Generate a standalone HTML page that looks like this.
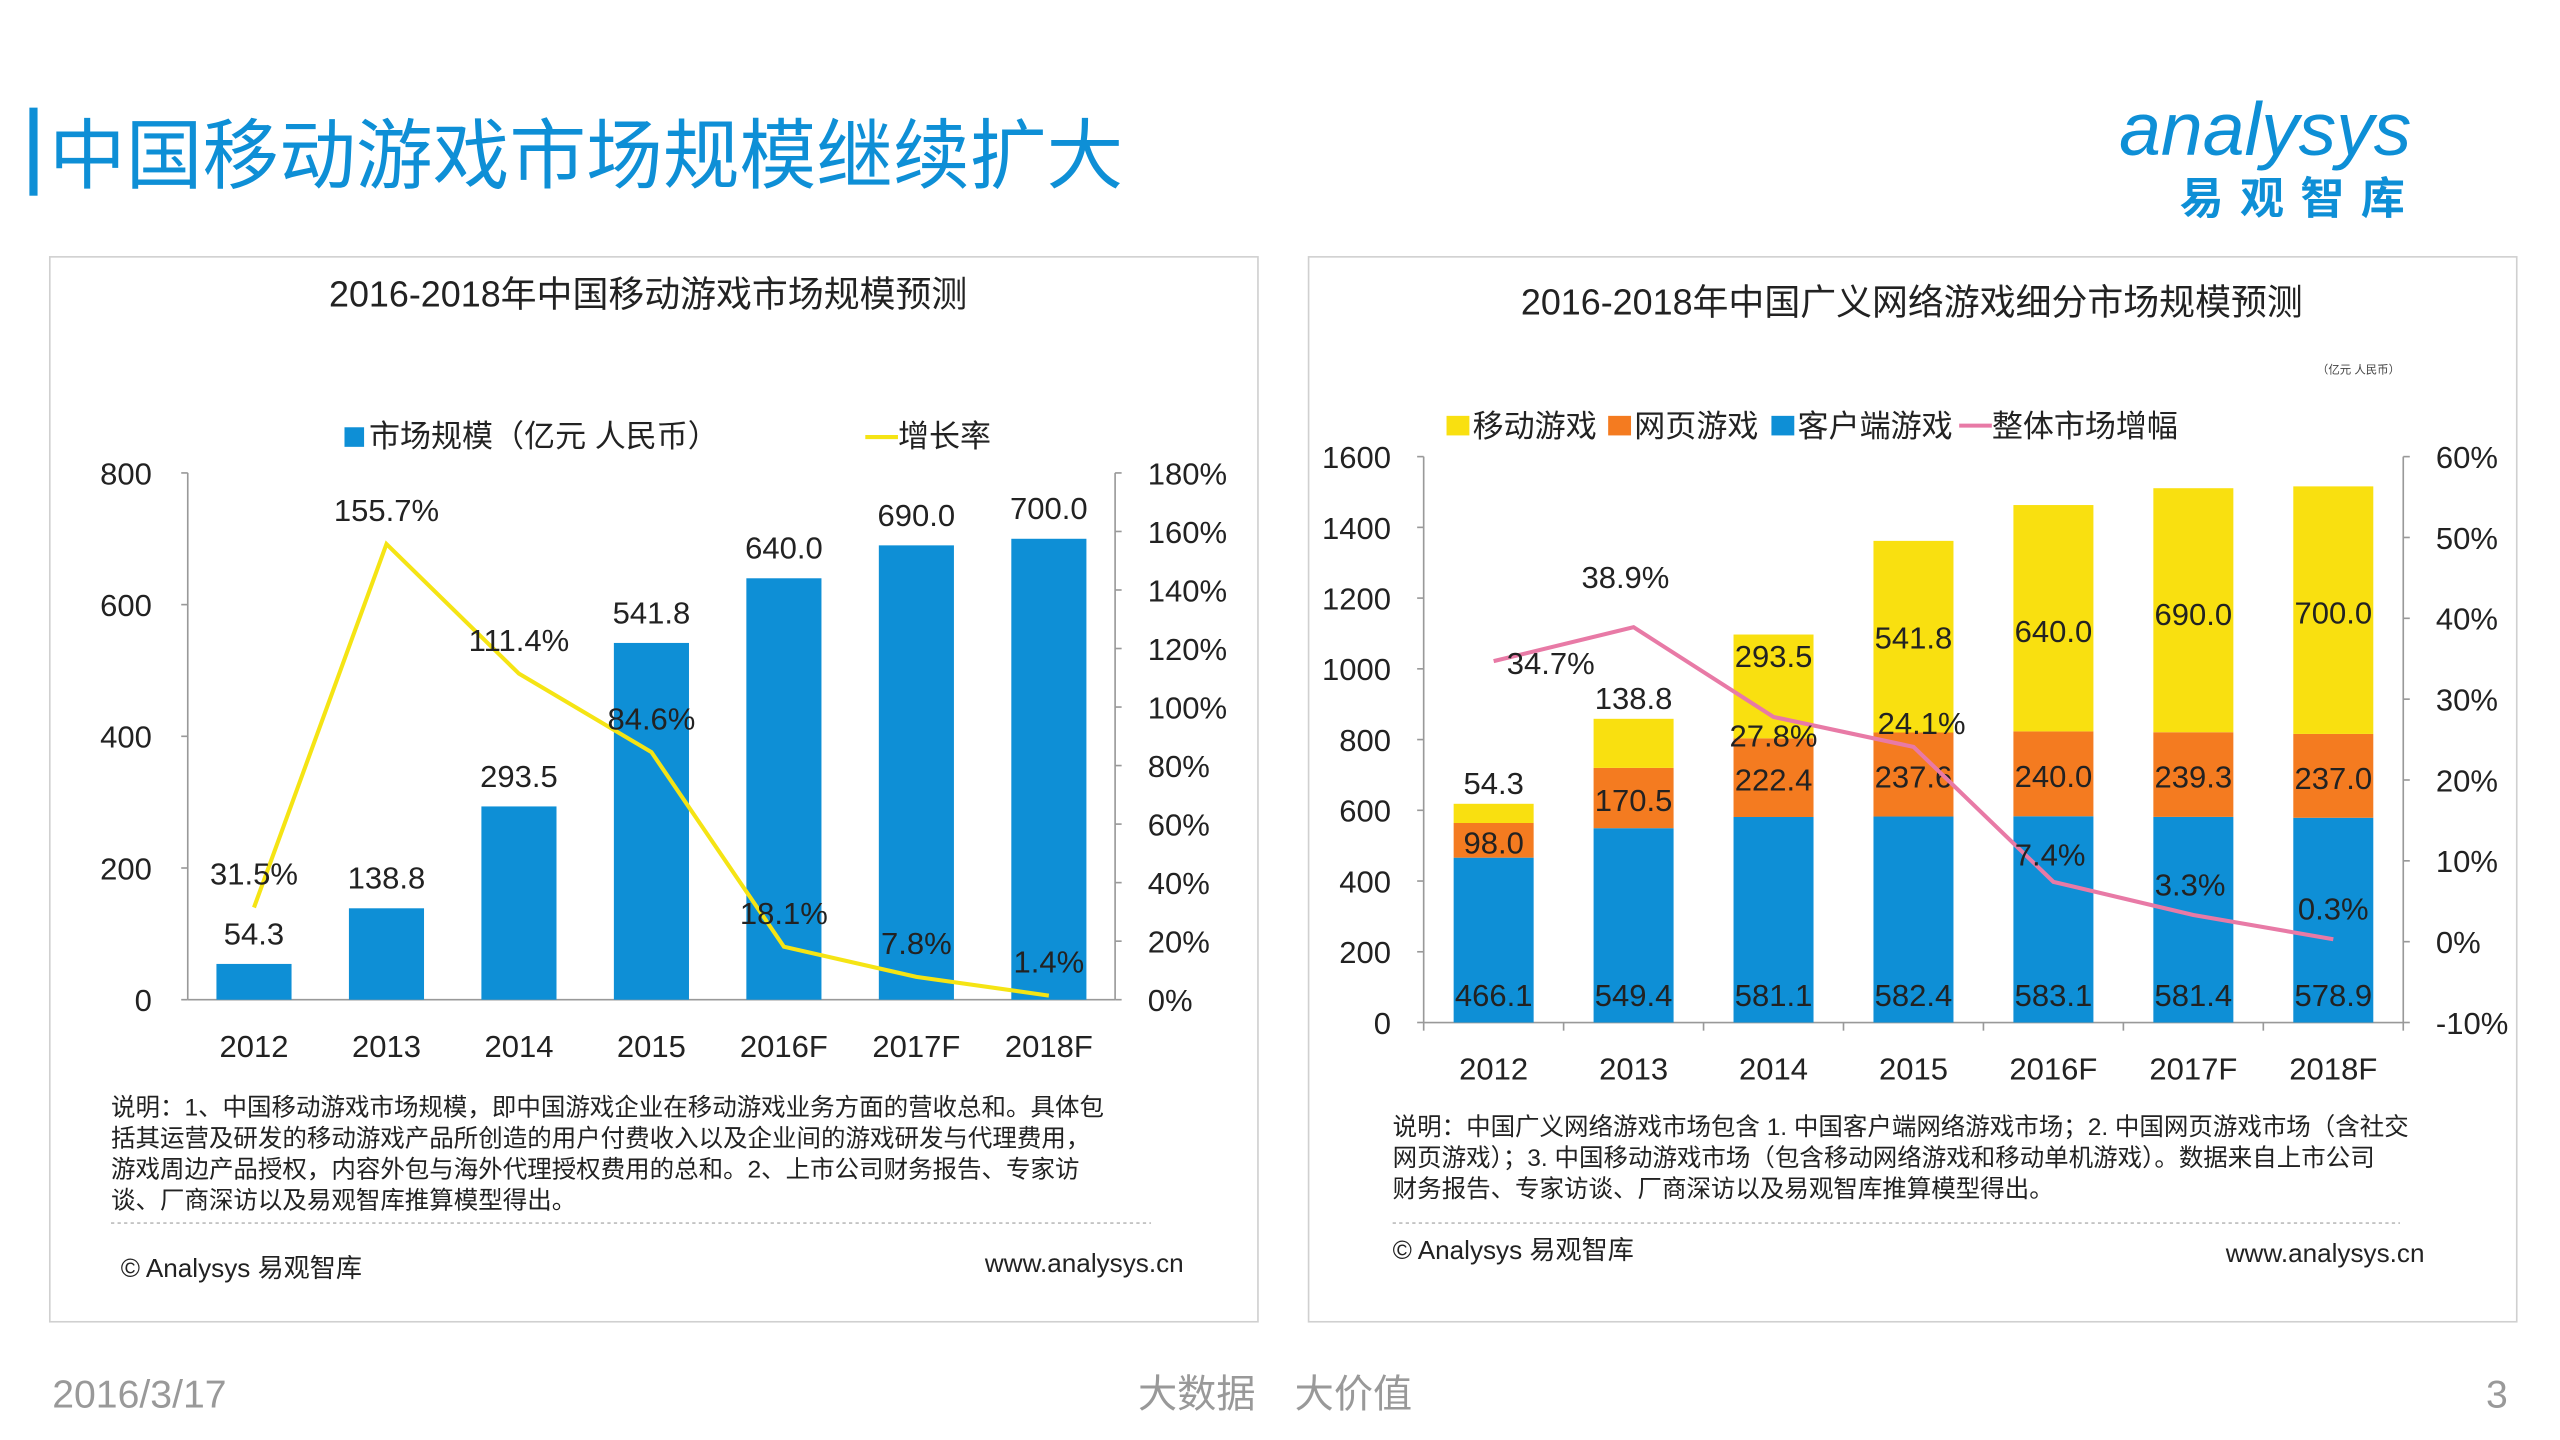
<!DOCTYPE html>
<html><head><meta charset="utf-8"><style>
html,body{margin:0;padding:0;background:#fff;overflow:hidden}
svg{display:block}
text{font-family:"Liberation Sans","Noto Sans CJK SC",sans-serif}
</style></head><body>
<svg id="s" xmlns="http://www.w3.org/2000/svg" width="2560" height="1440" viewBox="0 0 1568 883" preserveAspectRatio="none">
<rect x="18" y="66" width="5" height="54" fill="#0e8fd6"/>
<text x="30" y="112" font-size="47" fill="#0e8fd6">中国移动游戏市场规模继续扩大</text>
<g>
<text x="1298" y="95" font-size="46" font-style="italic" fill="#0e8fd6" font-family="Liberation Sans,sans-serif">analysys</text>
<text x="1335" y="131" font-size="27" font-weight="bold" fill="#0e8fd6" letter-spacing="10">易观智库</text>
</g>
<rect x="30.5" y="157.5" width="740" height="653" fill="none" stroke="#d0d0d0"/>
<rect x="801.5" y="157.5" width="740" height="653" fill="none" stroke="#d0d0d0"/>
<text x="397" y="188" font-size="22" text-anchor="middle" fill="#222">2016-2018年中国移动游戏市场规模预测</text>
<text x="1171" y="193" font-size="22" text-anchor="middle" fill="#222">2016-2018年中国广义网络游戏细分市场规模预测</text>
<text x="1470" y="229" font-size="7" text-anchor="end" fill="#444">（亿元 人民币）</text>
<g id="left"></g>
<g id="right"></g>
<g font-size="15" fill="#222">
<text x="68" y="684">说明：1、中国移动游戏市场规模，即中国游戏企业在移动游戏业务方面的营收总和。具体包</text>
<text x="68" y="703">括其运营及研发的移动游戏产品所创造的用户付费收入以及企业间的游戏研发与代理费用，</text>
<text x="68" y="722">游戏周边产品授权，内容外包与海外代理授权费用的总和。2、上市公司财务报告、专家访</text>
<text x="68" y="741">谈、厂商深访以及易观智库推算模型得出。</text>
</g>
<line x1="68" y1="750" x2="705" y2="750" stroke="#bbb" stroke-dasharray="2,2"/>
<text x="74" y="783" font-size="16" fill="#222">© Analysys 易观智库</text>
<text x="725" y="780" font-size="16" fill="#222" text-anchor="end">www.analysys.cn</text>
<g font-size="15" fill="#222">
<text x="853" y="696">说明：中国广义网络游戏市场包含 1. 中国客户端网络游戏市场；2. 中国网页游戏市场（含社交</text>
<text x="853" y="715">网页游戏）；3. 中国移动游戏市场（包含移动网络游戏和移动单机游戏）。数据来自上市公司</text>
<text x="853" y="734">财务报告、专家访谈、厂商深访以及易观智库推算模型得出。</text>
</g>
<line x1="853" y1="750" x2="1470" y2="750" stroke="#bbb" stroke-dasharray="2,2"/>
<text x="853" y="772" font-size="16" fill="#222">© Analysys 易观智库</text>
<text x="1485" y="774" font-size="16" fill="#222" text-anchor="end">www.analysys.cn</text>
<text x="32" y="863" font-size="24" fill="#999">2016/3/17</text>
<text x="697" y="863" font-size="24" fill="#999">大数据　大价值</text>
<text x="1536" y="863" font-size="24" fill="#999" text-anchor="end">3</text>
</svg>
<script>
const NS="http://www.w3.org/2000/svg";
// Left chart data
const leftYears=["2012","2013","2014","2015","2016F","2017F","2018F"];
const leftMarket=[54.3,138.8,293.5,541.8,640.0,690.0,700.0];
const leftGrowth=[31.5,155.7,111.4,84.6,18.1,7.8,1.4];
const leftYTicks=[0,200,400,600,800];
const leftY2Ticks=[0,20,40,60,80,100,120,140,160,180];
// Right chart data
const rightYears=["2012","2013","2014","2015","2016F","2017F","2018F"];
const clientGame=[466.1,549.4,581.1,582.4,583.1,581.4,578.9];
const webGame=[98.0,170.5,222.4,237.6,240.0,239.3,237.0];
const mobileGame=[54.3,138.8,293.5,541.8,640.0,690.0,700.0];
const totalGrowth=[34.7,38.9,27.8,24.1,7.4,3.3,0.3];
const rightYTicks=[0,200,400,600,800,1000,1200,1400,1600];
const rightY2Ticks=[-10,0,10,20,30,40,50,60];

function el(parent,tag,attrs,txt){const e=document.createElementNS(NS,tag);for(const k in attrs)e.setAttribute(k,attrs[k]);if(txt!==undefined)e.textContent=txt;parent.appendChild(e);return e;}

// LEFT
(function(){
const g=document.getElementById('left');
const x0=115,x1=683,yb=613,yt=290;
const y=v=>yb-(v/800)*(yb-yt);
const y2=v=>yb-(v/180)*(yb-yt);
const step=(x1-x0)/leftYears.length;
const cx=i=>x0+step*(i+0.5);
el(g,'line',{x1:x0,y1:yt,x2:x0,y2:yb,stroke:'#999'});
el(g,'line',{x1:x0,y1:yb,x2:x1,y2:yb,stroke:'#999'});
el(g,'line',{x1:x1,y1:yt,x2:x1,y2:yb,stroke:'#999'});
leftYTicks.forEach(t=>{
 const e=el(g,'text',{x:93,y:y(t)+7,'font-size':19,'text-anchor':'end',fill:'#222'},String(t));
 
 
 el(g,'line',{x1:x0-4,y1:y(t),x2:x0,y2:y(t),stroke:'#999'});
});
leftY2Ticks.forEach(t=>{
 const e=el(g,'text',{x:703,y:y2(t)+7,'font-size':19,fill:'#222'},t+'%');
 
 
 el(g,'line',{x1:x1,y1:y2(t),x2:x1+4,y2:y2(t),stroke:'#999'});
});
leftYears.forEach((yr,i)=>{
 const b=el(g,'rect',{x:cx(i)-23,y:y(leftMarket[i]),width:46,height:yb-y(leftMarket[i]),fill:'#0e8fd6'});
 
 
 const l=el(g,'text',{x:cx(i),y:y(leftMarket[i])-12,'font-size':19,'text-anchor':'middle',fill:'#222'},leftMarket[i].toFixed(1));
 
 
 const xl=el(g,'text',{x:cx(i),y:648,'font-size':19,'text-anchor':'middle',fill:'#222'},yr);
 
 
});
const pts=leftGrowth.map((v,i)=>cx(i)+','+y2(v)).join(' ');
const pl=el(g,'polyline',{points:pts,fill:'none',stroke:'#f5e414','stroke-width':2.5});


leftGrowth.forEach((v,i)=>{
 const t=el(g,'text',{x:cx(i),y:y2(v)-14,'font-size':19,'text-anchor':'middle',fill:'#222'},v+'%');
 
 
});
const lg=el(g,'g',{});


el(lg,'rect',{x:211,y:262,width:12,height:12,fill:'#0e8fd6'});
el(lg,'text',{x:226,y:274,'font-size':19,fill:'#222'},'市场规模（亿元 人民币）');
el(lg,'line',{x1:530,y1:268,x2:550,y2:268,stroke:'#f5e414','stroke-width':2.5});
el(lg,'text',{x:550,y:274,'font-size':19,fill:'#222'},'增长率');
})();

// RIGHT
(function(){
const g=document.getElementById('right');
const x0=872,x1=1472,yb=627,yt=280;
const y=v=>yb-(v/1600)*(yb-yt);
const y2=v=>yb-((v+10)/70)*(yb-yt);
const step=(x1-x0)/rightYears.length;
const cx=i=>x0+step*(i+0.5);
el(g,'line',{x1:x0,y1:yt,x2:x0,y2:yb,stroke:'#999'});
el(g,'line',{x1:x0,y1:yb,x2:x1,y2:yb,stroke:'#999'});
el(g,'line',{x1:x1,y1:yt,x2:x1,y2:yb,stroke:'#999'});
rightYTicks.forEach(t=>{
 const e=el(g,'text',{x:852,y:y(t)+7,'font-size':19,'text-anchor':'end',fill:'#222'},String(t));
 
 
 el(g,'line',{x1:x0-4,y1:y(t),x2:x0,y2:y(t),stroke:'#999'});
});
rightY2Ticks.forEach(t=>{
 const e=el(g,'text',{x:1492,y:y2(t)+7,'font-size':19,fill:'#222'},t+'%');
 
 
 el(g,'line',{x1:x1,y1:y2(t),x2:x1+4,y2:y2(t),stroke:'#999'});
});
for(let i=0;i<=rightYears.length;i++)el(g,'line',{x1:x0+step*i,y1:yb,x2:x0+step*i,y2:yb+5,stroke:'#999'});
const series=[[clientGame,'#0e8fd6','client'],[webGame,'#f47b20','web'],[mobileGame,'#f9e010','mobile']];
const mobOff=[-6,-6,20,66,84,84,84];
rightYears.forEach((yr,i)=>{
 let base=0;
 series.forEach(([arr,c,n])=>{
  const v=arr[i];
  const r=el(g,'rect',{x:cx(i)-24.5,y:y(base+v),width:49,height:y(base)-y(base+v),fill:c});
  
  
  let ly=(n==='client')?yb-10:(n==='web'?(y(base)+y(base+v))/2+8:y(base+v)+mobOff[i]);
  const t=el(g,'text',{x:cx(i),y:ly,'font-size':19,'text-anchor':'middle',fill:'#222'},v.toFixed(1));
  
  
  base+=v;
 });
 const xl=el(g,'text',{x:cx(i),y:662,'font-size':19,'text-anchor':'middle',fill:'#222'},yr);
 
 
});
const pts=totalGrowth.map((v,i)=>cx(i)+','+y2(v)).join(' ');
const pl=el(g,'polyline',{points:pts,fill:'none',stroke:'#e87aa6','stroke-width':2.5});


const offs=[[35,8],[-5,-24],[0,18],[5,-8],[-2,-10],[-2,-12],[0,-12]];
totalGrowth.forEach((v,i)=>{
 const t=el(g,'text',{x:cx(i)+offs[i][0],y:y2(v)+offs[i][1],'font-size':19,'text-anchor':'middle',fill:'#222'},v+'%');
 
 
});
const lg=el(g,'g',{});


el(lg,'rect',{x:886,y:255,width:14,height:12,fill:'#f9e010'});
el(lg,'text',{x:902,y:268,'font-size':19,fill:'#222'},'移动游戏');
el(lg,'rect',{x:985,y:255,width:14,height:12,fill:'#f47b20'});
el(lg,'text',{x:1001,y:268,'font-size':19,fill:'#222'},'网页游戏');
el(lg,'rect',{x:1085,y:255,width:14,height:12,fill:'#0e8fd6'});
el(lg,'text',{x:1101,y:268,'font-size':19,fill:'#222'},'客户端游戏');
el(lg,'line',{x1:1200,y1:261,x2:1220,y2:261,stroke:'#e87aa6','stroke-width':2.5});
el(lg,'text',{x:1220,y:268,'font-size':19,fill:'#222'},'整体市场增幅');
})();
</script>
</body></html>
